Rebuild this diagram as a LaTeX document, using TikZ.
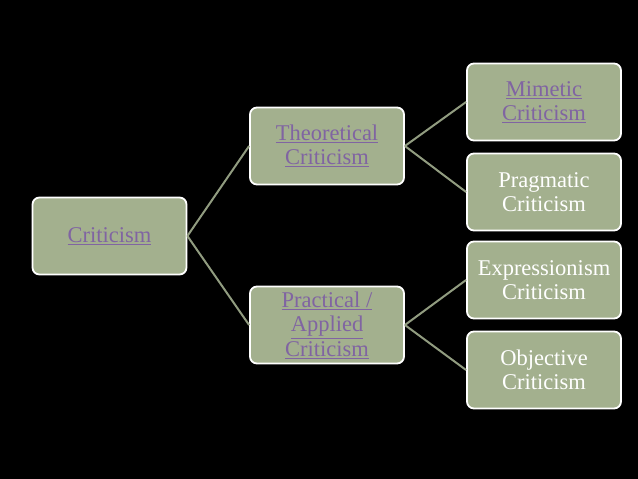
\documentclass[tikz,border=0pt]{standalone}
\usepackage{fontspec}
\setmainfont{Liberation Serif}
\definecolor{boxfill}{RGB}{163,176,142}
\definecolor{linkpurple}{RGB}{128,100,162}
\definecolor{conn}{RGB}{145,156,128}
\tikzset{
  box/.style={draw=white, line width=1.8pt, fill=boxfill, rounded corners=7pt,
    minimum width=154pt, minimum height=77pt, inner sep=2pt, align=center,
    font=\fontsize{22.5}{24.5}\selectfont},
  linktext/.style={text=linkpurple},
  plaintext/.style={text=white},
  conline/.style={draw=conn, line width=2pt}
}
\newcommand{\lk}[1]{\underline{#1}}
\begin{document}
\begin{tikzpicture}[x=1pt,y=-1pt]
\fill[black] (0,0) rectangle (638,479);
\useasboundingbox (0,0) rectangle (638,479);
\node[box,linktext] (crit) at (109.5,236) {\lk{Criticism}};
\node[box,linktext] (theo) at (327,146) {\lk{Theoretical}\\\lk{Criticism}};
\node[box,linktext] (prac) at (327,325) {\lk{Practical /}\\\lk{Applied}\\\lk{Criticism}};
\node[box,linktext] (mim) at (544,102) {\lk{Mimetic}\\\lk{Criticism}};
\node[box,plaintext] (prag) at (544,192) {Pragmatic\\Criticism};
\node[box,plaintext] (expr) at (544,280) {Expressionism\\Criticism};
\node[box,plaintext] (obj) at (544,370) {Objective\\Criticism};
\draw[conline] (crit.east) -- (theo.west);
\draw[conline] (crit.east) -- (prac.west);
\draw[conline] (theo.east) -- (mim.west);
\draw[conline] (theo.east) -- (prag.west);
\draw[conline] (prac.east) -- (expr.west);
\draw[conline] (prac.east) -- (obj.west);
\end{tikzpicture}
\end{document}
